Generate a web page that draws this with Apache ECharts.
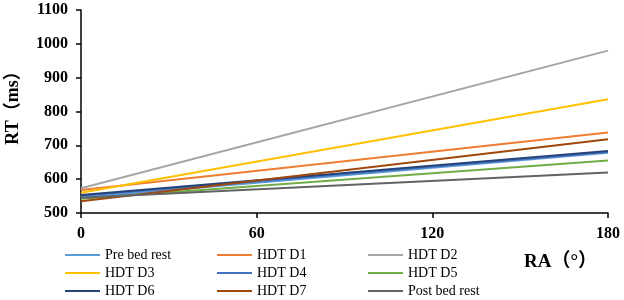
<!DOCTYPE html>
<html>
<head>
<meta charset="utf-8">
<script src="https://cdn.jsdelivr.net/npm/echarts@6/dist/echarts.min.js"></script>
<style>
  html, body { margin: 0; padding: 0; background: #fff; }
  #chart { width: 624px; height: 300px; }
</style>
</head>
<body>
<div id="chart"></div>
<script>
// RA (deg) end points of each fitted line
const raPoints = [0, 180]

const seriesNames = ['Pre bed rest', 'HDT D1', 'HDT D2', 'HDT D3', 'HDT D4', 'HDT D5', 'HDT D6', 'HDT D7', 'Post bed rest']
const seriesColors = ['#5B9BD5', '#ED7D31', '#A5A5A5', '#FFC000', '#4472C4', '#70AD47', '#264478', '#9E480E', '#636363']

// RT (ms) at RA = 0 and RA = 180
const preBedRest = [545, 678]
const hdtD1 = [568, 738]
const hdtD2 = [573, 980]
const hdtD3 = [560, 836]
const hdtD4 = [550, 680]
const hdtD5 = [542, 655]
const hdtD6 = [553, 683]
const hdtD7 = [535, 718]
const postBedRest = [545, 620]

const seriesValues = [preBedRest, hdtD1, hdtD2, hdtD3, hdtD4, hdtD5, hdtD6, hdtD7, postBedRest]

const legendColumns = [
    ['Pre bed rest', 'HDT D3', 'HDT D6'],
    ['HDT D1', 'HDT D4', 'HDT D7'],
    ['HDT D2', 'HDT D5', 'Post bed rest']
]
const legendLefts = [65, 217, 368]

const serif = "'Liberation Serif', 'Noto Sans CJK SC', serif"

const chart = echarts.init(document.getElementById('chart'))

const axisCommon = {
    axisLine: { lineStyle: { color: '#000', width: 1.5 } },
    axisTick: { show: true, inside: false, length: 5, lineStyle: { color: '#000', width: 1.5 } },
    axisLabel: { color: '#000', fontFamily: serif, fontWeight: 'bold', fontSize: 16, margin: 13, formatter: v => String(v) },
    splitLine: { show: false }
}

chart.setOption({
    animation: false,
    grid: { left: 81, right: 16, top: 10, bottom: 87, outerBoundsMode: 'none' },
    xAxis: Object.assign({}, axisCommon, {
        type: 'value',
        min: 0,
        max: 180,
        interval: 60,
        name: 'RA（°）',
        nameLocation: 'end',
        nameGap: -11,
        nameTextStyle: {
            color: '#000', fontFamily: serif, fontWeight: 'bold', fontSize: 19,
            align: 'right', verticalAlign: 'top', padding: [40, 0, 0, 0]
        }
    }),
    yAxis: Object.assign({}, axisCommon, {
        type: 'value',
        min: 500,
        max: 1100,
        interval: 100,
        name: 'RT（ms）',
        nameLocation: 'middle',
        nameGap: 59,
        nameTextStyle: { color: '#000', fontFamily: serif, fontWeight: 'bold', fontSize: 18, padding: [0, 0, 0, 16] }
    }),
    legend: legendColumns.map((names, i) => ({
        data: names,
        orient: 'vertical',
        left: legendLefts[i],
        top: 248,
        height: 60,
        padding: 0,
        icon: 'rect',
        itemWidth: 35,
        itemHeight: 2,
        itemGap: 4,
        textStyle: { color: '#000', fontFamily: serif, fontSize: 14 }
    })),
    series: seriesNames.map((name, i) => ({
        name: name,
        type: 'line',
        data: raPoints.map((ra, j) => [ra, seriesValues[i][j]]),
        symbol: 'none',
        color: seriesColors[i],
        lineStyle: { width: 2, color: seriesColors[i] }
    }))
})
</script>
</body>
</html>
